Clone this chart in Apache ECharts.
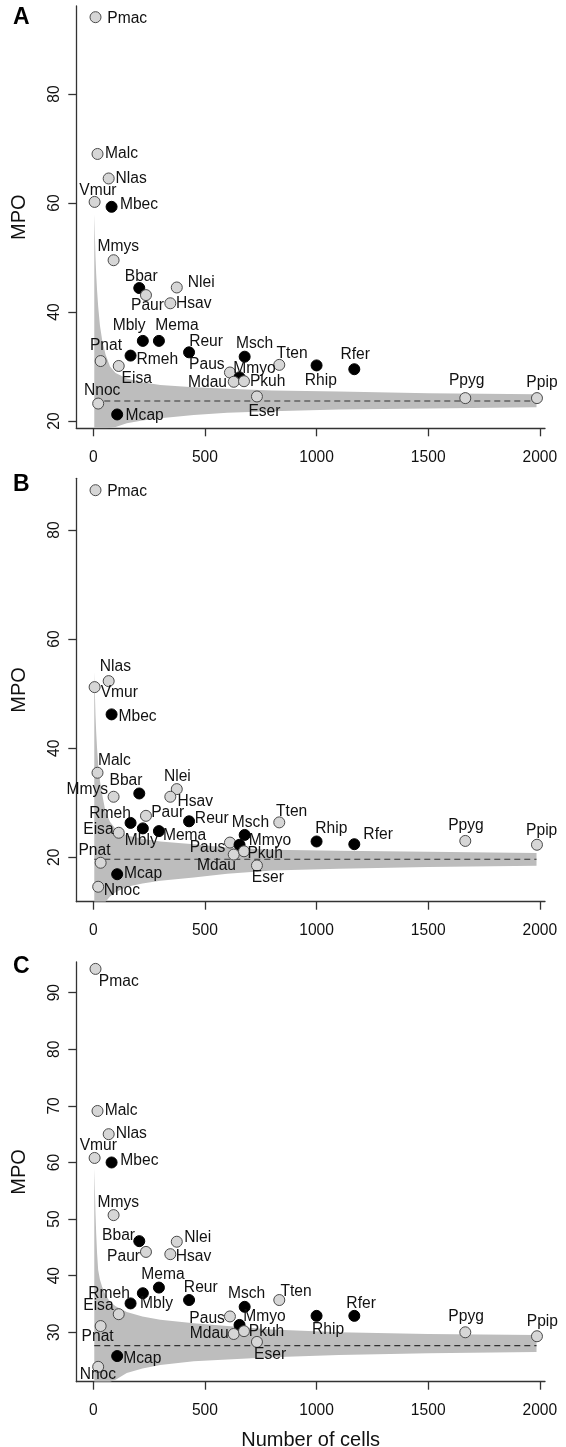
<!DOCTYPE html>
<html>
<head>
<meta charset="utf-8">
<script src="https://cdn.jsdelivr.net/npm/echarts@6/dist/echarts.min.js"></script>
<style>
html,body{margin:0;padding:0;background:#fff;}
#chart{width:566px;height:1447px;}
</style>
</head>
<body>
<div id="chart"></div>
<script>
// ---------- data ----------
const SPECIES = ['Pmac','Malc','Nlas','Vmur','Mbec','Mmys','Bbar','Paur','Nlei','Hsav','Mbly','Mema','Pnat','Rmeh','Eisa','Reur','Msch','Paus','Mmyo','Mdau','Pkuh','Tten','Rhip','Rfer','Ppyg','Ppip','Nnoc','Mcap','Eser'];
const NCELLS  = [10,19,69,6,82,91,206,236,374,345,222,294,33,167,114,429,678,612,655,629,675,833,1000,1169,1666,1987,22,107,733];
const GROUP   = ['g','g','g','g','b','g','b','g','g','g','b','b','g','b','g','b','b','g','b','g','g','g','b','b','g','g','g','b','g'];
const MPO_A = [94.1,69.0,64.5,60.2,59.3,49.5,44.4,43.1,44.5,41.6,34.7,34.7,31.0,32.0,30.1,32.6,31.8,28.9,28.0,27.2,27.3,30.3,30.2,29.5,24.2,24.2,23.2,21.2,24.5];
const MPO_B = [87.3,35.5,52.3,51.2,46.2,31.1,31.7,27.6,32.5,31.1,25.3,24.8,19.0,26.3,24.5,26.6,24.1,22.7,22.3,20.5,21.1,26.4,22.9,22.4,23.0,22.3,14.6,16.9,18.5];
const MPO_C = [94.2,69.1,65.0,60.8,60.0,50.7,46.1,44.2,46.0,43.8,36.9,37.9,31.1,35.1,33.2,35.7,34.5,32.8,31.3,29.7,30.2,35.7,32.9,32.9,30.0,29.3,23.9,25.8,28.3];

// null-model envelope (read from the shaded funnels)
const FUN_N   = [4.5,6,8,10,13,17,22,30,40,55,75,100,150,220,300,450,600,800,1100,1500,1985];
const UPPER_A = [58,56,53,50,47,44,41,37.5,34.8,32.2,30.0,28.8,27.8,27.1,26.6,26.2,25.9,25.6,25.4,25.1,24.9];
const LOWER_A = [18.66,18.66,18.66,18.66,18.66,18.66,18.66,18.66,18.66,18.66,18.7,18.9,19.6,20.1,20.5,21.1,21.5,21.8,22.1,22.3,22.5];
const UPPER_B = [54,52,49,46,43,40,37,34,31.5,28.3,26.5,25.2,24.0,23.4,22.9,22.4,21.8,21.4,21.2,21.0,20.8];
const LOWER_B = [11.86,11.86,11.86,11.86,11.86,11.86,11.86,11.86,11.86,11.86,12.8,13.6,14.6,15.2,15.7,16.3,17.0,17.6,17.9,18.2,18.45];
const UPPER_C = [59,57,54,51,47.5,44,41,39.3,38.0,36.6,35.4,34.6,33.6,32.8,32.2,31.6,31.1,30.5,30.0,29.7,29.5];
const LOWER_C = [21.27,21.27,21.27,21.27,21.27,21.27,21.27,21.27,21.27,21.27,21.27,21.6,22.8,23.6,24.2,24.9,25.2,25.6,26.0,26.3,26.5];
const MEAN = [23.66, 19.63, 27.65];
const MEAN_SPAN = [4.5, 1985];

const X_TICKS = [0,500,1000,1500,2000];
const Y_TICKS_A = [20,40,60,80];
const Y_TICKS_B = [20,40,60,80];
const Y_TICKS_C = [30,40,50,60,70,80,90];

// ---------- layout (label offsets of each species name, per panel) ----------
const LBL_A = [[31.7,1.7],[24,0],[22.5,0],[3.3,-11.7],[27.4,-1.7],[4.7,-14],[2,-11.6],[1.5,10.7],[24.4,-5],[23.5,0.7],[-13.7,-15],[18,-15],[5.3,-15.3],[26.8,4.3],[18,12.3],[17,-10.6],[9.9,-13.4],[-23.1,-7.7],[14.9,-9],[-26.2,1],[23.7,0.4],[12.7,-11.4],[4.2,15.4],[0.9,-15],[1.4,-17.6],[5,-15],[4,-13],[27.5,1],[7.5,15.6]];
const LBL_B = [[31.6,1.7],[16.9,-12],[6.7,-14],[24.7,6],[26,2.7],[-26.3,-6.7],[-13.3,-12.6],[21.7,-3.4],[0.6,-12],[25,5],[-1.6,12.4],[25.7,4.7],[-6.2,-12],[-20.4,-9.4],[-20.3,-3.4],[22.7,-2.7],[5.8,-12.3],[-22.5,5],[30.5,-4.3],[-17.2,11.4],[21.2,2],[12.4,-10.6],[14.8,-12.7],[23.8,-9.3],[0.7,-15],[4.7,-14.3],[23.7,4],[25.9,-0.3],[10.9,12.6]];
const LBL_C = [[23.3,12.7],[23.6,-0.7],[22.6,0],[3.7,-12],[27.8,-1.3],[4.7,-12.7],[-20.7,-5.3],[-22.4,4.7],[21,-4],[23.2,3],[13.7,10],[4,-13.3],[-3,10.7],[-21.5,-9.3],[-20.3,-8],[11.7,-12.7],[2,-12.7],[-22.8,2.3],[25,-8.3],[-24.5,-0.7],[22.5,0.7],[16.8,-8.3],[11.5,14.3],[6.8,-11.7],[0.8,-15.6],[5.4,-14.6],[-0.3,8.3],[25.1,3],[13.2,12.3]];

const FONT = "'Liberation Sans', Arial, Helvetica, sans-serif";
const AXC = '#333';

const panels = [
  {top:6,     height:422.3, ymin:18.66, ymax:96.15, ticks:Y_TICKS_A, mpo:MPO_A, up:UPPER_A, lo:LOWER_A, lbl:LBL_A, letter:'A', ly:18.5},
  {top:478.3, height:423.4, ymin:11.86, ymax:89.48, ticks:Y_TICKS_B, mpo:MPO_B, up:UPPER_B, lo:LOWER_B, lbl:LBL_B, letter:'B', ly:485.5},
  {top:962,   height:419.7, ymin:21.27, ymax:95.42, ticks:Y_TICKS_C, mpo:MPO_C, up:UPPER_C, lo:LOWER_C, lbl:LBL_C, letter:'C', ly:967}
];

const grid = [], xAxis = [], yAxis = [], series = [], graphic = [];
panels.forEach((p, i) => {
  grid.push({left:76.3, top:p.top, width:468.7, height:p.height, containLabel:false, outerBoundsMode:'none'});
  xAxis.push({
    type:'value', gridIndex:i, min:-76, max:2023,
    axisLine:{show:true, onZero:false, lineStyle:{color:AXC, width:1.3}},
    axisTick:{show:true, length:8, inside:false, customValues:X_TICKS, lineStyle:{color:AXC, width:1.3}},
    axisLabel:{show:true, customValues:X_TICKS, margin:21, color:'#111', fontSize:15.6, fontFamily:FONT, formatter:(v) => String(v)},
    splitLine:{show:false},
    name: i === 2 ? 'Number of cells' : '',
    nameLocation:'middle', nameGap:49,
    nameTextStyle:{fontSize:20, color:'#111', fontFamily:FONT}
  });
  yAxis.push({
    type:'value', gridIndex:i, min:p.ymin, max:p.ymax,
    axisLine:{show:true, onZero:false, lineStyle:{color:AXC, width:1.3}},
    axisTick:{show:true, length:8, inside:false, customValues:p.ticks, lineStyle:{color:AXC, width:1.3}},
    axisLabel:{show:true, customValues:p.ticks, rotate:90, margin:14, color:'#111', fontSize:15.6, fontFamily:FONT, formatter:(v) => String(v)},
    splitLine:{show:false},
    name:'MPO', nameLocation:'middle', nameRotate:90, nameGap:47,
    nameTextStyle:{fontSize:20, color:'#111', fontFamily:FONT}
  });
  series.push({
    type:'custom', xAxisIndex:i, yAxisIndex:i, silent:true, clip:true, z:1,
    data:[[1000, MEAN[i]]],
    renderItem:(params, api) => {
      const pts = [];
      for (let k = 0; k < FUN_N.length; k++) pts.push(api.coord([FUN_N[k], p.up[k]]));
      for (let k = FUN_N.length - 1; k >= 0; k--) pts.push(api.coord([FUN_N[k], p.lo[k]]));
      return {type:'polygon', shape:{points:pts}, style:{fill:'#bdbdbd', stroke:null}};
    }
  });
  series.push({
    type:'line', xAxisIndex:i, yAxisIndex:i, silent:true, z:2, symbol:'none',
    data:[[MEAN_SPAN[0], MEAN[i]], [MEAN_SPAN[1], MEAN[i]]],
    lineStyle:{color:'#333', width:1.1, type:[6,4]}
  });
  series.push({
    type:'scatter', xAxisIndex:i, yAxisIndex:i, z:3, symbol:'circle', symbolSize:11,
    data: SPECIES.map((s, k) => ({
      name:s, value:[NCELLS[k], p.mpo[k]],
      itemStyle: GROUP[k] === 'b'
        ? {color:'#000', borderColor:'#000', borderWidth:1, opacity:1}
        : {color:'#d6d6d6', borderColor:'#4a4a4a', borderWidth:1, opacity:1},
      label:{offset:p.lbl[k]}
    })),
    itemStyle:{opacity:1},
    label:{show:true, position:'inside', formatter:'{b}', color:'#111', opacity:1, fontSize:15.6, fontFamily:FONT, align:'center', verticalAlign:'middle'},
    emphasis:{disabled:true}
  });
  graphic.push({type:'text', left:13, top:p.ly - 12, style:{text:p.letter, font:'bold 23px ' + FONT, fill:'#000'}});
});

const chart = echarts.init(document.getElementById('chart'), null, {renderer:'canvas'});
chart.setOption({
  animation:false,
  backgroundColor:'#fff',
  grid, xAxis, yAxis, series, graphic
});
</script>
</body>
</html>
